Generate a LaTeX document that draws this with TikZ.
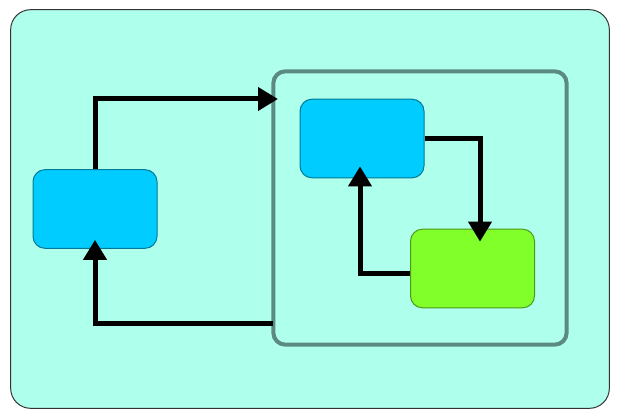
\documentclass[tikz,border=0pt]{standalone}
\usetikzlibrary{arrows.meta,calc}
\definecolor{bgaqua}{RGB}{174,255,236}
\definecolor{boxblue}{RGB}{0,204,255}
\definecolor{boxgreen}{RGB}{128,255,42}
\definecolor{grpline}{RGB}{90,138,128}
\tikzset{
  px/.style={x=0.75pt,y=-0.75pt},
  bluebox/.style={draw=black!40!boxblue,line width=0.75pt,fill=boxblue,rounded corners=9pt,minimum width=93pt,minimum height=59pt,inner sep=0pt},
  greenbox/.style={draw=black!40!boxgreen,line width=0.75pt,fill=boxgreen,rounded corners=9pt,minimum width=93pt,minimum height=59pt,inner sep=0pt},
  grpbox/.style={draw=grpline,line width=3pt,rounded corners=9pt,minimum width=220pt,minimum height=205pt,inner sep=0pt},
  arr/.style={draw=black,line width=3.75pt,-{Triangle[length=15pt,width=17pt]}},
}
\begin{document}
\begin{tikzpicture}[px]
\useasboundingbox (0,0) rectangle (620,420);
\node[draw=black!80,line width=0.75pt,fill=bgaqua,rounded corners=15pt,minimum width=449pt,minimum height=299pt,inner sep=0pt] (outer) at (310,209) {};
\node[grpbox] (grp) at (420,208) {};
\node[bluebox] (L) at (95,209) {};
\node[bluebox] (B) at (362,138.5) {};
\node[greenbox] (G) at (472.5,268.5) {};
\coordinate (c1) at (278,99);
\coordinate (c2) at (273,323);
\draw[arr] (L.north) |- (c1);
\draw[arr,shorten >=-6.75pt] (c2) -| (L.south);
\draw[arr,shorten >=-9.75pt] (B.east) -| ($(G.north)+(7.5,0)$);
\draw[arr,shorten >=-9pt] ($(G.west)+(0,4.5)$) -| ($(B.south)+(-2,0)$);
\end{tikzpicture}
\end{document}
